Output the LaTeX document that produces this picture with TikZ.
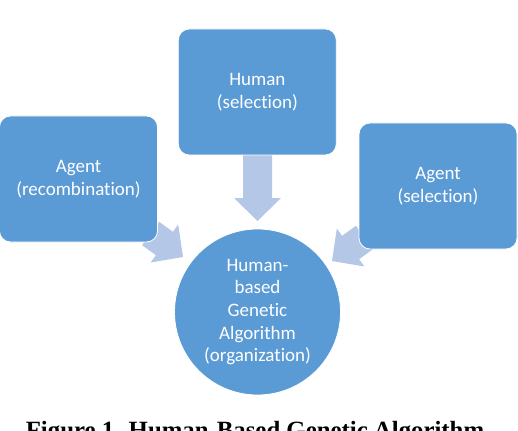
\documentclass[tikz,border=0pt]{standalone}
\usepackage{fontspec}
\setmainfont{Carlito}[Ligatures=NoCommon]
\newfontfamily\capfont{Liberation Serif}
\definecolor{boxblue}{RGB}{91,155,213}
\definecolor{arrowblue}{RGB}{180,199,231}
\begin{document}
\begin{tikzpicture}[x=1pt,y=-1pt,
  box/.style={draw=white, line width=0.8pt, fill=boxblue, rounded corners=11pt,
    minimum width=158pt, minimum height=126pt, inner sep=0pt, align=center,
    text=white, font=\fontsize{19}{22.5}\selectfont},
  hub/.style={draw=white, line width=0.8pt, fill=boxblue, circle, minimum size=166pt,
    inner sep=0pt, align=center, text=white, font=\fontsize{19}{22.7}\selectfont},
  blockarrow/.style={fill=arrowblue, draw=none}]
\useasboundingbox (0,0) rectangle (518,430);
\clip (0,0) rectangle (518,430);
% block arrows (behind the shapes)
\fill[blockarrow] (243,150) -- (272,150) -- (272,198) -- (281,198) -- (257.5,221)
  -- (234,198) -- (243,198) -- cycle;
\fill[blockarrow] (142.1,245.2) -- (155.9,255.2) -- (150.6,262.5) -- (183,257)
  -- (178.2,224.5) -- (172.9,231.8) -- (159.1,221.8) -- cycle;
\fill[blockarrow] (372.9,249.2) -- (359.1,259.2) -- (364.4,266.5) -- (332,261)
  -- (336.8,228.5) -- (342.1,235.8) -- (355.9,225.8) -- cycle;
% shapes
\node[box] (human) at (257.3,92) {Human\\(selection)};
\node[box] (recomb) at (78.5,179) {Agent\\(recombination)};
\node[box] (agentsel) at (438,186) {Agent\\(selection)};
\node[hub] (hbga) at (257.5,312) {Human-\\based\\Genetic\\Algorithm\\(organization)};
% caption (cut off by the page edge, as in the reference)
\node[anchor=base, inner sep=0pt, font=\capfont\bfseries\fontsize{24.8}{28}\selectfont]
  (caption) at (255,438) {Figure 1. Human-Based Genetic Algorithm};
\end{tikzpicture}
\end{document}
